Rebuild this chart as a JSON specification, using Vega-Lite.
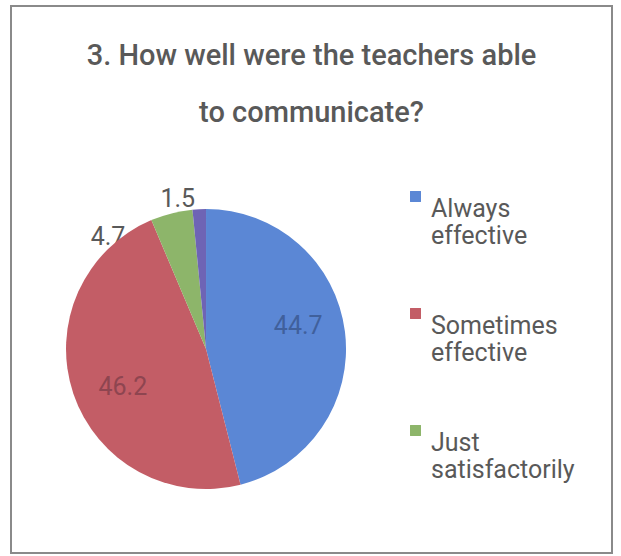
{
  "$schema": "https://vega.github.io/schema/vega-lite/v6.json",
  "width": 601,
  "height": 547,
  "autosize": "none",
  "padding": {"left": 11, "top": 6, "right": 9, "bottom": 3},
  "background": "white",
  "title": {
    "text": ["3. How well were the teachers able", "to communicate?"],
    "font": "Roboto",
    "fontSize": 29,
    "fontWeight": 500,
    "color": "#595959",
    "lineHeight": 57,
    "baseline": "alphabetic",
    "offset": -145,
    "anchor": "middle"
  },
  "config": {"view": {"stroke": "#8a8a8a", "strokeWidth": 2}, "font": "Roboto"},
  "data": {
    "values": [
      {"category": "Always effective", "percent": 44.7, "idx": 1},
      {"category": "Sometimes effective", "percent": 46.2, "idx": 2},
      {"category": "Just satisfactorily", "percent": 4.7, "idx": 3},
      {"category": "Not effective", "percent": 1.5, "idx": 4}
    ]
  },
  "encoding": {
    "theta": {"field": "percent", "type": "quantitative", "stack": true},
    "order": {"field": "idx", "type": "quantitative"},
    "x": {"datum": 0.3245, "type": "quantitative", "scale": {"domain": [0, 1]}, "axis": null},
    "y": {"datum": 0.373, "type": "quantitative", "scale": {"domain": [0, 1]}, "axis": null}
  },
  "layer": [
    {
      "mark": {"type": "text", "radius": 150, "dx": -61, "dy": 33, "fontSize": 25, "color": "#595959"},
      "encoding": {
        "text": {"condition": {"test": "datum.category === 'Just satisfactorily'", "field": "percent", "type": "quantitative", "format": ".1f"}, "value": ""}
      }
    },
    {
      "mark": {"type": "arc", "radius": 140},
      "encoding": {
        "color": {
          "field": "category",
          "type": "nominal",
          "scale": {
            "domain": ["Always effective", "Sometimes effective", "Just satisfactorily", "Not effective"],
            "range": ["#5b87d5", "#c35d66", "#8db56a", "#6e64b5"]
          },
          "legend": {
            "values": ["Always effective", "Sometimes effective", "Just satisfactorily"],
            "orient": "none",
            "legendX": 392,
            "legendY": 178,
            "title": null,
            "symbolType": "square",
            "symbolSize": 120,
            "symbolStrokeWidth": 0,
            "labelFontSize": 25,
            "labelColor": "#595959",
            "labelFont": "Roboto",
            "labelExpr": "split(datum.label, ' ')",
            "labelLineHeight": 30,
            "labelBaseline": "top",
            "labelOffset": 3,
            "rowPadding": 52
          }
        }
      }
    },
    {
      "mark": {"type": "text", "radius": 104, "dx": -11, "dy": -10, "fontSize": 25, "color": "#40609c"},
      "encoding": {
        "text": {"condition": {"test": "datum.category === 'Always effective'", "field": "percent", "type": "quantitative", "format": ".1f"}, "value": ""}
      }
    },
    {
      "mark": {"type": "text", "radius": 92, "dx": 4, "dy": 9, "fontSize": 25, "color": "#8e4550"},
      "encoding": {
        "text": {"condition": {"test": "datum.category === 'Sometimes effective'", "field": "percent", "type": "quantitative", "format": ".1f"}, "value": ""}
      }
    },
    {
      "mark": {"type": "text", "radius": 150, "dx": -21, "dy": 0, "fontSize": 25, "color": "#595959"},
      "encoding": {
        "text": {"condition": {"test": "datum.category === 'Not effective'", "field": "percent", "type": "quantitative", "format": ".1f"}, "value": ""}
      }
    }
  ]
}
